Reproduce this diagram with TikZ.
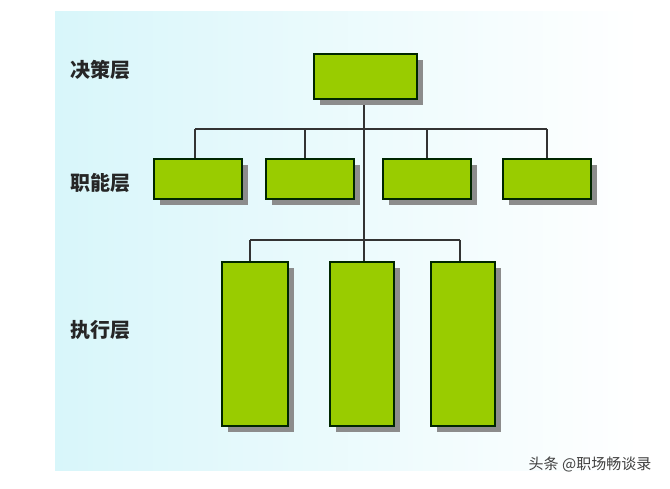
\documentclass[tikz,border=0pt]{standalone}
\usepackage{fontspec}
\newfontfamily\cjk{Noto Sans CJK SC}
\definecolor{boxgreen}{HTML}{99CC00}
\definecolor{bgblue}{HTML}{D8F6FA}
\begin{document}
\begin{tikzpicture}[x=1pt,y=-1pt,
  box/.style={draw=black!85!green, line width=1.6pt, fill=boxgreen},
  shadowbox/.style={fill=black!45},
  ln/.style={draw=black!80, line width=1.6pt},
  lab/.style={font=\cjk\fontsize{20}{20}\selectfont\bfseries, text=black!85}]
\useasboundingbox (0,0) rectangle (670,489);
\fill[white] (0,0) rectangle (670,489);
\shade[left color=bgblue, right color=white] (55,12) rectangle (640,470);
\node[lab] (l1) at (100,70) {决策层};
\node[lab] (l2) at (100,183) {职能层};
\node[lab] (l3) at (100,330) {执行层};
% lines
\coordinate (h1l) at (195,129); \coordinate (h1r) at (547,129);
\coordinate (h2l) at (250,240); \coordinate (h2r) at (460,240);
\coordinate (v1) at (364,98); \coordinate (v2) at (364,261);
\draw[ln] (h1l) -- (h1r);
\draw[ln] (h2l) -- (h2r);
\draw[ln] (v1) -- (v2);
\foreach \x in {195,305,427,547} \draw[ln] (\x,129) -- (\x,158);
\foreach \x in {250,460} \draw[ln] (\x,240) -- (\x,261);
% boxes with shadows
\foreach \a/\b/\c/\d/\n in {313/53/416/98/t, 153/158/241/198/m1, 265/158/353/198/m2, 382/158/470/198/m3, 502/158/590/198/m4, 221/261/287/425/b1, 329/261/393/425/b2, 430/261/494/425/b3}{
  \fill[shadowbox] (\a+7,\b+7) rectangle (\c+7,\d+7);
  \node[box, minimum width={\c-\a}, minimum height={\d-\b}, inner sep=0pt, anchor=north west] (\n) at (\a,\b) {};
}
\node[font=\cjk\fontsize{15}{15}\selectfont, text=black!75] (wm) at (590,464) {头条 @职场畅谈录};
\end{tikzpicture}
\end{document}
